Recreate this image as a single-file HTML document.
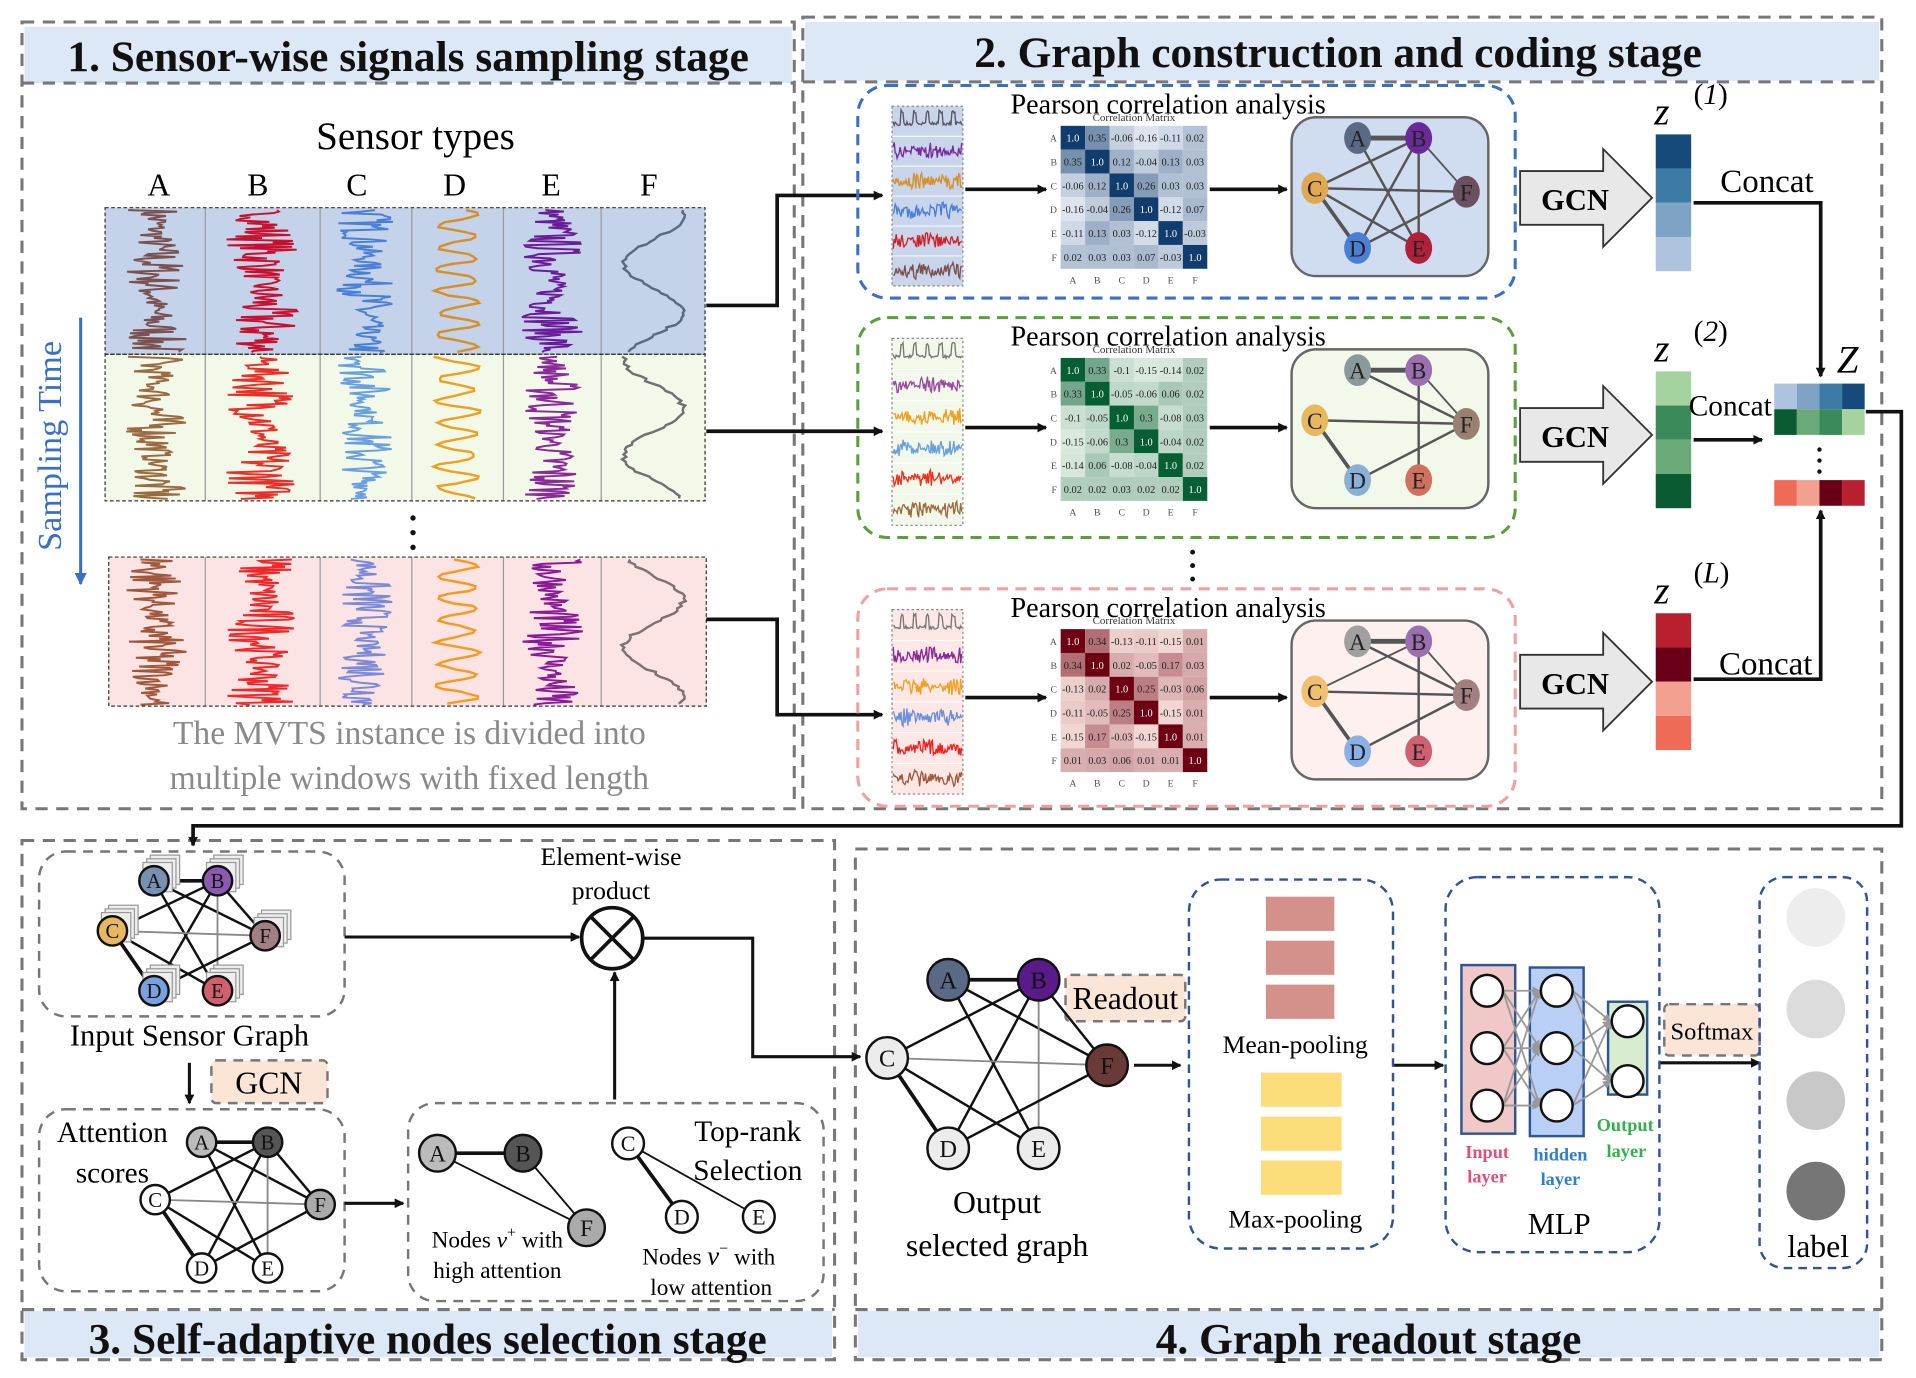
<!DOCTYPE html>
<html><head><meta charset="utf-8"><style>
html,body{margin:0;padding:0;background:#fff}
svg{display:block}
text{font-family:"Liberation Serif",serif}
</style></head><body>
<svg id="s" width="1916" height="1378" viewBox="0 0 1568 1128" preserveAspectRatio="none" xmlns="http://www.w3.org/2000/svg">
<defs>
<marker id="ar" markerWidth="8" markerHeight="8" refX="7" refY="4" orient="auto" markerUnits="userSpaceOnUse"><path d="M0,0 L8,4 L0,8 z" fill="#111"/></marker>
<marker id="arb" markerWidth="10" markerHeight="10" refX="9" refY="5" orient="auto" markerUnits="userSpaceOnUse"><path d="M0,0 L10,5 L0,10 z" fill="#3a6fc8"/></marker>
<marker id="arg" markerWidth="7" markerHeight="7" refX="6" refY="3.5" orient="auto" markerUnits="userSpaceOnUse"><path d="M0,0 L7,3.5 L0,7 z" fill="#999"/></marker>
</defs>
<g fill="none" stroke="#777" stroke-width="2.5" stroke-dasharray="10,7">
<rect x="18" y="18" width="632" height="644"/>
<rect x="657" y="14" width="883" height="648"/>
<rect x="18" y="688" width="665" height="425"/>
<rect x="700" y="695" width="840" height="418"/>
</g>
<g fill="#dce8f5">
<rect x="20" y="22" width="628" height="46"/>
<rect x="659" y="18" width="879" height="48"/>
<rect x="20" y="1073" width="661" height="38"/>
<rect x="702" y="1073" width="836" height="38"/>
</g>
<g fill="none" stroke="#777" stroke-width="2.5" stroke-dasharray="10,7">
<line x1="18" y1="68" x2="650" y2="68"/><line x1="657" y1="67" x2="1540" y2="67"/>
<line x1="18" y1="1072" x2="683" y2="1072"/><line x1="700" y1="1072" x2="1540" y2="1072"/>
</g>
<g font-weight="bold" font-size="35.5" text-anchor="middle" fill="#111">
<text x="334" y="58">1. Sensor-wise signals sampling stage</text>
<text x="1095" y="55">2. Graph construction and coding stage</text>
<text x="350" y="1108">3. Self-adaptive nodes selection stage</text>
<text x="1120" y="1108">4. Graph readout stage</text>
</g>
<text x="340" y="122" font-size="32" text-anchor="middle">Sensor types</text>
<g font-size="26" text-anchor="middle">
<text x="130" y="160">A</text><text x="211" y="160">B</text><text x="292" y="160">C</text><text x="372" y="160">D</text><text x="451" y="160">E</text><text x="531" y="160">F</text>
</g>
<rect x="86" y="170" width="491" height="120" fill="#c5d3ea"/>
<rect x="86" y="290" width="491" height="120" fill="#f3f9e8"/>
<rect x="89" y="456" width="489" height="122" fill="#fde4e4"/>
<g id="sig1"></g>
<g fill="none" stroke="#333" stroke-width="1" stroke-dasharray="3,2">
<rect x="86" y="170" width="491" height="120"/><rect x="86" y="290" width="491" height="120"/><rect x="89" y="456" width="489" height="122"/>
</g>
<g fill="#111"><circle cx="338" cy="424" r="2.2"/><circle cx="338" cy="436" r="2.2"/><circle cx="338" cy="448" r="2.2"/></g>
<text transform="translate(50,365) rotate(-90)" font-size="28" fill="#3a6fc8" text-anchor="middle">Sampling Time</text>
<line x1="66" y1="260" x2="66" y2="478" stroke="#3a6fc8" stroke-width="2.5" marker-end="url(#arb)"/>
<g font-size="27.5" fill="#8a8a8a" text-anchor="middle">
<text x="335" y="609">The MVTS instance is divided into</text>
<text x="335" y="646">multiple windows with fixed length</text>
</g>
<g fill="none" stroke="#111" stroke-width="3">
<polyline points="578,250 636,250 636,160 722,160" marker-end="url(#ar)"/>
<polyline points="578,353 722,353" marker-end="url(#ar)"/>
<polyline points="578,507 636,507 636,585 722,585" marker-end="url(#ar)"/>
</g>
<g id="rows"></g>
<g fill="#111" font-size="26"><circle cx="976" cy="452" r="2"/><circle cx="976" cy="463" r="2"/><circle cx="976" cy="474" r="2"/></g>
<text x="1512" y="305" font-size="32" font-style="italic" text-anchor="middle">Z</text>
<g id="zc"></g>
<g fill="#111"><circle cx="1489" cy="368" r="1.8"/><circle cx="1489" cy="377" r="1.8"/><circle cx="1489" cy="386" r="1.8"/></g>
<g fill="none" stroke="#111" stroke-width="3">
<polyline points="1386,166 1490,166 1490,308" marker-end="url(#ar)"/>
<polyline points="1386,360 1442,360" marker-end="url(#ar)"/>
<polyline points="1386,556 1490,556 1490,418" marker-end="url(#ar)"/>
<polyline points="1527,337 1556,337 1556,676 158,676 158,692" marker-end="url(#ar)"/>
</g>
<g font-size="27" text-anchor="middle"><text x="1446" y="157">Concat</text><text x="1416" y="340" font-size="24">Concat</text><text x="1445" y="552">Concat</text></g>
<g fill="none" stroke="#777" stroke-width="2" stroke-dasharray="8,6">
<rect x="32" y="697" width="250" height="135" rx="22"/>
<rect x="32" y="908" width="250" height="149" rx="22"/>
<rect x="334" y="903" width="340" height="162" rx="22"/>
<rect x="173" y="868" width="95" height="35" rx="4" fill="#fbe5d6"/>
<rect x="872" y="798" width="98" height="38" rx="4" fill="#fbe5d6"/>
<rect x="1362" y="822" width="78" height="42" rx="4" fill="#fbe5d6"/>
</g>
<g id="g3"></g>
<text x="155" y="856" font-size="25" text-anchor="middle">Input Sensor Graph</text>
<text x="220" y="895" font-size="26" text-anchor="middle">GCN</text>
<g font-size="24" text-anchor="middle"><text x="92" y="935">Attention</text><text x="92" y="968">scores</text>
<text x="612" y="934">Top-rank</text><text x="612" y="966">Selection</text></g>
<g font-size="19" text-anchor="middle">
<text x="407" y="1021">Nodes <tspan font-style="italic">v</tspan><tspan dy="-8" font-size="13">+</tspan><tspan dy="8"> with</tspan></text>
<text x="407" y="1046">high attention</text>
<text x="580" y="1035">Nodes  <tspan font-style="italic" font-size="22">v</tspan><tspan dy="-9" font-size="13">−</tspan><tspan dy="9">  with</tspan></text>
<text x="582" y="1060">low attention</text>
<text x="500" y="708" font-size="21">Element-wise</text><text x="500" y="736" font-size="21">product</text>
</g>
<circle cx="501" cy="768" r="25" fill="#fff" stroke="#111" stroke-width="3"/>
<path d="M483,750 L519,786 M519,750 L483,786" stroke="#111" stroke-width="3"/>
<g fill="none" stroke="#111" stroke-width="2.5">
<polyline points="282,767 474,767" marker-end="url(#ar)"/>
<polyline points="155,870 155,903" marker-end="url(#ar)"/>
<polyline points="282,985 330,985" marker-end="url(#ar)"/>
<polyline points="503,900 503,796" marker-end="url(#ar)"/>
<polyline points="527,768 616,768 616,865 704,865" marker-end="url(#ar)"/>
<polyline points="928,872 966,872" marker-end="url(#ar)"/>
<polyline points="1140,872 1181,872" marker-end="url(#ar)"/>
<polyline points="1358,870 1440,870" marker-end="url(#ar)"/>
</g>
<g fill="none" stroke="#2f5597" stroke-width="2" stroke-dasharray="7,5">
<rect x="973" y="720" width="167" height="302" rx="26"/>
<rect x="1183" y="718" width="175" height="307" rx="26"/>
<rect x="1440" y="718" width="88" height="320" rx="20"/>
</g>
<text x="921" y="826" font-size="26" text-anchor="middle">Readout</text>
<text x="1401" y="851" font-size="20" text-anchor="middle">Softmax</text>
<g fill="#d4918b"><rect x="1036" y="734" width="56" height="28"/><rect x="1036" y="770" width="56" height="28"/><rect x="1036" y="806" width="56" height="28"/></g>
<g fill="#fddc7a"><rect x="1032" y="878" width="66" height="28"/><rect x="1032" y="914" width="66" height="28"/><rect x="1032" y="950" width="66" height="28"/></g>
<g font-size="21" text-anchor="middle"><text x="1060" y="862">Mean-pooling</text><text x="1060" y="1005">Max-pooling</text></g>
<rect x="1196" y="790" width="44" height="138" fill="#f0c8c8" stroke="#2f5597" stroke-width="2"/>
<rect x="1252" y="792" width="44" height="138" fill="#b9cff5" stroke="#2f5597" stroke-width="2"/>
<rect x="1316" y="820" width="32" height="76" fill="#d8ecd0" stroke="#2f5597" stroke-width="2"/>
<g id="mlp" stroke="#999" stroke-width="1.5" fill="none"></g>
<g fill="#fff" stroke="#111" stroke-width="2">
<circle cx="1217" cy="811" r="13"/><circle cx="1217" cy="858" r="13"/><circle cx="1217" cy="905" r="13"/>
<circle cx="1274" cy="811" r="13"/><circle cx="1274" cy="858" r="13"/><circle cx="1274" cy="905" r="13"/>
<circle cx="1332" cy="836" r="13"/><circle cx="1332" cy="885" r="13"/>
</g>
<g font-size="15" font-weight="bold" text-anchor="middle">
<text x="1217" y="948" fill="#e0507a">Input</text><text x="1217" y="968" fill="#e0507a">layer</text>
<text x="1277" y="950" fill="#2f7fd0">hidden</text><text x="1277" y="970" fill="#2f7fd0">layer</text>
<text x="1330" y="926" fill="#33b04a">Output</text><text x="1331" y="947" fill="#33b04a">layer</text>
</g>
<text x="1276" y="1010" font-size="25" text-anchor="middle">MLP</text>
<circle cx="1486" cy="751" r="24" fill="#ededed"/><circle cx="1486" cy="826" r="24" fill="#dcdcdc"/>
<circle cx="1486" cy="901" r="24" fill="#c8c8c8"/><circle cx="1486" cy="975" r="24" fill="#767676"/>
<text x="1488" y="1029" font-size="26" text-anchor="middle">label</text>
<g font-size="26" text-anchor="middle"><text x="816" y="993">Output</text><text x="816" y="1028">selected graph</text></g>
</svg>
<script>
var NS="http://www.w3.org/2000/svg";
function el(p,t,a,txt){var e=document.createElementNS(NS,t);for(var k in a)e.setAttribute(k,a[k]);if(txt!=null)e.textContent=txt;p.appendChild(e);return e;}
var seed=7;function rnd(){seed=(seed*16807)%2147483647;return seed/2147483647;}
var sg=document.getElementById('sig1');
var cols=[[86,168],[168,262],[262,337],[337,412],[412,492],[492,577]];
var pal=[["#7a5050","#c8102e","#4a7fd6","#d6902a","#6a1b9a","#5a6a80"],["#9a6a40","#e8302a","#6aa0e0","#f0a020","#8a2a9a","#707070"],["#a0583a","#f0282a","#7a8ad8","#f89a20","#8a1a9a","#807070"]];
var wins=[[170,290],[290,410],[456,578]];
wins.forEach(function(w,wi){
 cols.forEach(function(c,ci){
  if(ci>0) el(sg,'line',{x1:c[0],y1:w[0],x2:c[0],y2:w[1],stroke:'#999','stroke-width':1});
  var cx=(c[0]+c[1])/2,pts=[],amp=(c[1]-c[0])*0.32;
  var smooth=(ci==3||ci==5);
  for(var y=w[0]+2;y<w[1]-1;y+=smooth?2:1.2){
   var a=smooth?Math.sin(y*0.35+ci)*amp*0.7+(rnd()-0.5)*6:(rnd()-0.5)*2*amp*(0.4+0.6*Math.abs(Math.sin(y*0.05+ci)));
   if(ci==5)a=Math.sin(y*0.08)*amp*0.9+(rnd()-0.5)*5;
   pts.push((cx+a).toFixed(1)+","+y.toFixed(1));
  }
  el(sg,'polyline',{points:pts.join(' '),fill:'none',stroke:pal[wi][ci],'stroke-width':smooth?2:1.6});
 });
});
var M=[
[[1.0,0.35,-0.06,-0.16,-0.11,0.02],[0.35,1.0,0.12,-0.04,0.13,0.03],[-0.06,0.12,1.0,0.26,0.03,0.03],[-0.16,-0.04,0.26,1.0,-0.12,0.07],[-0.11,0.13,0.03,-0.12,1.0,-0.03],[0.02,0.03,0.03,0.07,-0.03,1.0]],
[[1.0,0.33,-0.1,-0.15,-0.14,0.02],[0.33,1.0,-0.05,-0.06,0.06,0.02],[-0.1,-0.05,1.0,0.3,-0.08,0.03],[-0.15,-0.06,0.3,1.0,-0.04,0.02],[-0.14,0.06,-0.08,-0.04,1.0,0.02],[0.02,0.02,0.03,0.02,0.02,1.0]],
[[1.0,0.34,-0.13,-0.11,-0.15,0.01],[0.34,1.0,0.02,-0.05,0.17,0.03],[-0.13,0.02,1.0,0.25,-0.03,0.06],[-0.11,-0.05,0.25,1.0,-0.15,0.01],[-0.15,0.17,-0.03,-0.15,1.0,0.01],[0.01,0.03,0.06,0.01,0.01,1.0]]];
var R=[
 {y0:70,y1:244,stroke:'#3a6fc8',bg:'#c8d5eb',gbg:'#d0dcef',lo:[235,240,248],hi:[16,60,110],
  nc:['#5a6a85','#6a2a9a','#e0a850','#6a5060','#4a7fd6','#b0203a'],
  vec:['#154a7a','#3d7aa5','#7ea3c4','#aec3de']},
 {y0:260,y1:440,stroke:'#5aa03a',bg:'#f2f9ea',gbg:'#f2f9ea',lo:[235,245,235],hi:[5,95,50],
  nc:['#8a9a9a','#9a70b0','#e8b860','#9a8070','#8ab0d8','#d07060'],
  vec:['#a5d3a0','#3a8a5a','#6aaa78','#0a5a32']},
 {y0:482,y1:660,stroke:'#f0a0a0',bg:'#fde8e6',gbg:'#fdf0ee',lo:[252,232,225],hi:[110,0,20],
  nc:['#a0a0a0','#9a70b0','#f0c070','#a08080','#8ab0e8','#d06070'],
  vec:['#b82030','#6a0018','#f4a090','#f06a58']}];
var rg=document.getElementById('rows');
var sc=[["#556","#7a2a9a","#d6902a","#4a7fd6","#d0202a","#7a5050"],["#777","#9a4aa0","#f0a020","#6aa0e0","#f03020","#a06a40"],["#777","#8a2a9a","#f0a020","#6a90e0","#f02020","#a05a3a"]];
function fmt(v){return v==1?'1.0':String(v);}
R.forEach(function(r,i){
 var y0=r.y0,y1=r.y1,h=y1-y0;
 el(rg,'rect',{x:702,y:y0,width:538,height:h,rx:24,fill:'none',stroke:r.stroke,'stroke-width':2.5,'stroke-dasharray':'9,6'});
 el(rg,'text',{x:956,y:y0+23,'font-size':23,'text-anchor':'middle'},'Pearson correlation analysis');
 var sy=y0+17,sh=h-27;
 el(rg,'rect',{x:730,y:sy,width:58,height:sh,fill:r.bg,stroke:'#888','stroke-width':1,'stroke-dasharray':'2,2'});
 for(var k=0;k<6;k++){var cy=sy+sh*(k+0.5)/6,pts=[];
  for(var x=731;x<787;x+=0.8){var a=k==0?(Math.abs(Math.sin(x*0.3))>0.92?-8:2)+(rnd()-0.5)*3:(rnd()-0.5)*10*(0.5+Math.abs(Math.sin(x*0.1+k)));pts.push(x.toFixed(1)+","+(cy+a).toFixed(1));}
  el(rg,'polyline',{points:pts.join(' '),fill:'none',stroke:sc[i][k],'stroke-width':1.1});
  if(k>0)el(rg,'line',{x1:730,x2:788,y1:sy+sh*k/6,y2:sy+sh*k/6,stroke:'#fff','stroke-width':0.8});
 }
 var my=(y0+y1)/2+(i==0?-2:0);
 el(rg,'line',{x1:790,y1:my,x2:856,y2:my,stroke:'#111','stroke-width':3,'marker-end':'url(#ar)'});
 var mx=868,mty=y0+33,cw=20,ch=19.5;
 el(rg,'text',{x:mx+60,y:mty-4,'font-size':9,'text-anchor':'middle',fill:'#333'},'Correlation Matrix');
 var L='ABCDEF';
 for(var a=0;a<6;a++){
  el(rg,'text',{x:mx-3,y:mty+ch*a+13,'font-size':8,'text-anchor':'end',fill:'#555'},L[a]);
  el(rg,'text',{x:mx+cw*a+10,y:mty+ch*6+12,'font-size':8,'text-anchor':'middle',fill:'#555'},L[a]);
  for(var b=0;b<6;b++){var v=M[i][a][b],t=Math.max(0,Math.min(1,(v+0.2)/1.2));t=Math.pow(t,0.8);
   var c=[0,1,2].map(function(j){return Math.round(r.lo[j]+(r.hi[j]-r.lo[j])*t);});
   el(rg,'rect',{x:mx+cw*b,y:mty+ch*a,width:cw,height:ch,fill:'rgb('+c.join(',')+')'});
   el(rg,'text',{x:mx+cw*b+10,y:mty+ch*a+13,'font-size':8.5,'text-anchor':'middle',fill:t>0.6?'#fff':'#222'},fmt(v));
  }}
 el(rg,'line',{x1:990,y1:my,x2:1053,y2:my,stroke:'#111','stroke-width':3,'marker-end':'url(#ar)'});
 var gy=y0+26;
 el(rg,'rect',{x:1057,y:gy,width:161,height:130,rx:20,fill:r.gbg,stroke:'#666','stroke-width':2});
 var N={A:[1111,gy+17],B:[1161,gy+17],C:[1076,gy+58],F:[1200,gy+61],D:[1111,gy+107],E:[1161,gy+107]};
 var E=i==0?[['A','B',4],['A','E',2],['B','D',2],['B','E',2],['B','F',1.5],['C','B',2],['C','F',2],['C','D',3],['C','E',2],['D','F',2]]:
   i==1?[['A','B',4],['A','F',2],['B','F',1.5],['B','E',2],['C','F',2],['C','D',3],['D','F',2]]:
   [['A','B',4],['A','F',2],['B','F',1.5],['B','E',2],['C','F',2],['C','D',3],['D','F',2],['C','B',1.5]];
 E.forEach(function(e){el(rg,'line',{x1:N[e[0]][0],y1:N[e[0]][1],x2:N[e[1]][0],y2:N[e[1]][1],stroke:'#555','stroke-width':e[2]});});
 var cmap={A:0,B:1,C:2,F:3,D:4,E:5};
 'ABCFDE'.split('').forEach(function(n){
  el(rg,'ellipse',{cx:N[n][0],cy:N[n][1],rx:11,ry:13,fill:r.nc[cmap[n]]});
  el(rg,'text',{x:N[n][0],y:N[n][1]+7,'font-size':19,'text-anchor':'middle',fill:'#222'},n);});
 var ay=(i==0?122:i==1?316:518);
 el(rg,'path',{d:'M1244,'+(ay+18)+' L1312,'+(ay+18)+' L1312,'+ay+' L1352,'+(ay+40)+' L1312,'+(ay+80)+' L1312,'+(ay+62)+' L1244,'+(ay+62)+' Z',fill:'#e8e8e8',stroke:'#333','stroke-width':1.5});
 el(rg,'text',{x:1289,y:ay+50,'font-size':25,'font-weight':'bold','text-anchor':'middle'},'GCN');
 var vy=i==0?110:i==1?304:502;
 for(var q=0;q<4;q++)el(rg,'rect',{x:1355,y:vy+q*28,width:29,height:28,fill:r.vec[q]});
 el(rg,'text',{x:1360,y:vy-8,'font-size':32,'font-style':'italic','text-anchor':'middle'},'z');
 var sup=['(1)','(2)','(L)'][i];
 var st=el(rg,'text',{x:1386,y:vy-25,'font-size':24});
 st.innerHTML='(<tspan font-style="italic">'+sup[1]+'</tspan>)';
});
var zc=document.getElementById('zc');
var zr=[['#aec3de','#7ea3c4','#3d7aa5','#154a7a'],['#0a5a32','#6aaa78','#3a8a5a','#a5d3a0']];
for(var a=0;a<2;a++)for(var b=0;b<4;b++)el(zc,'rect',{x:1452+b*18.5,y:314+a*21,width:18.5,height:21,fill:zr[a][b]});
var rr=['#f06a58','#f4a090','#6a0018','#b82030'];
for(var b=0;b<4;b++)el(zc,'rect',{x:1452+b*18.5,y:393,width:18.5,height:21,fill:rr[b]});
var g3=document.getElementById('g3');
function graph(N,E,C,r,fs,stack){
 E.forEach(function(e){el(g3,'line',{x1:N[e[0]][0],y1:N[e[0]][1],x2:N[e[1]][0],y2:N[e[1]][1],stroke:e[3]||'#111','stroke-width':e[2]});});
 for(var n in N){var p=N[n];
  if(stack)for(var s=3;s>=1;s--)el(g3,'rect',{x:p[0]-r+s*3,y:p[1]-r-s*3,width:2*r,height:2*r,fill:'#eee',stroke:'#999','stroke-width':1});
  el(g3,'circle',{cx:p[0],cy:p[1],r:r,fill:C[n],stroke:'#111','stroke-width':2});
  el(g3,'text',{x:p[0],y:p[1]+fs*0.35,'font-size':fs,'text-anchor':'middle',fill:'#111'},n);}
}
var Efull=[['A','B',3],['A','F',2],['A','E',2],['B','D',2],['B','E',1.5,'#888'],['C','B',2],['C','F',1.5,'#888'],['C','D',3],['C','E',2],['D','F',2],['B','F',2]];
graph({A:[126,721],B:[178,721],C:[92,762],F:[217,766],D:[126,811],E:[178,811]},Efull,
 {A:'#7a90b0',B:'#8a5ab0',C:'#e8b860',F:'#a08080',D:'#7aa0e0',E:'#d06070'},12,17,true);
graph({A:[165,935],B:[219,935],C:[127,982],F:[262,986],D:[165,1038],E:[219,1038]},Efull,
 {A:'#bbb',B:'#555',C:'#fff',F:'#aaa',D:'#fff',E:'#fff'},12,17,false);
graph({A:[358,944],B:[428,944],F:[480,1005]},[['A','B',3],['A','F',1.5],['B','F',1.5]],{A:'#bbb',B:'#555',F:'#aaa'},15,19,false);
graph({C:[514,936],D:[558,996],E:[621,996]},[['C','D',3],['C','E',1.5]],{C:'#fff',D:'#fff',E:'#fff'},13,18,false);
graph({A:[776,802],B:[850,802],C:[726,866],F:[906,872],D:[776,940],E:[850,940]},
 [['A','B',3],['A','F',2],['A','E',2],['B','D',2],['B','E',1.5,'#888'],['C','B',2],['C','F',1.5,'#888'],['C','D',3],['C','E',2],['D','F',2],['B','F',2]],
 {A:'#5a6a85',B:'#5a1a8a',C:'#ececec',F:'#6a3a38',D:'#ececec',E:'#ececec'},17,20,false);
var mg=document.getElementById('mlp');
[811,858,905].forEach(function(a){[811,858,905].forEach(function(b){el(mg,'line',{x1:1230,y1:a,x2:1260,y2:b,'marker-end':'url(#arg)'});});});
[811,858,905].forEach(function(a){[836,885].forEach(function(b){el(mg,'line',{x1:1287,y1:a,x2:1318,y2:b,'marker-end':'url(#arg)'});});});
</script>
</body></html>
